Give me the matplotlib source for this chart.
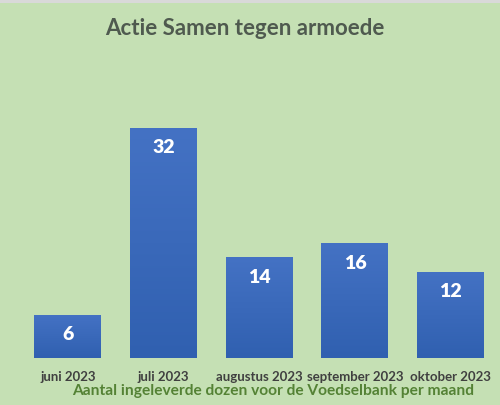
import matplotlib.pyplot as plt
import numpy as np
from matplotlib.patches import Rectangle
from matplotlib.colors import LinearSegmentedColormap

maanden = ["juni 2023", "juli 2023", "augustus 2023", "september 2023", "oktober 2023"]
dozen = [6, 32, 14, 16, 12]

titel = "Actie Samen tegen armoede"
onderschrift = "Aantal ingeleverde dozen voor de Voedselbank per maand"

achtergrond = "#c5e0b4"
plt.rcParams['font.family'] = ['Lato', 'DejaVu Sans']

fig = plt.figure(figsize=(5.0, 4.05), dpi=100, facecolor=achtergrond)
ax = fig.add_axes([0.040, 0.116, 0.957, 0.62])
ax.set_facecolor(achtergrond)

x = np.arange(len(maanden))
breedte = 0.70
ax.set_xlim(-0.5, len(maanden) - 0.5)
ax.set_ylim(0, 34.9)

# kleurverloop van licht (boven) naar donker (onder)
verloop = np.linspace(0, 1, 256).reshape(-1, 1)
cmap = LinearSegmentedColormap.from_list("blauw", ["#3060b0", "#4472c4"])

for xi, v in zip(x, dozen):
    balk = Rectangle((xi - breedte / 2, 0), breedte, v, facecolor="#3b66b8",
                     edgecolor="none", zorder=2)
    ax.add_patch(balk)
    img = ax.imshow(verloop, cmap=cmap, aspect="auto", origin="lower",
                    extent=(xi - breedte / 2, xi + breedte / 2, 0, v), zorder=3)
    img.set_clip_path(balk)
    ax.text(xi, v - 2.8, str(v), ha="center", va="center", color="white",
            fontsize=14, fontweight="heavy", zorder=4)

ax.set_xticks(x)
ax.set_xticklabels(maanden, fontsize=9.5, fontweight="bold", color="#404040")
ax.tick_params(axis="x", length=0, pad=9)
ax.set_yticks([])
for s in ax.spines.values():
    s.set_visible(False)

fig.text(0.49, 0.93, titel, ha="center", va="center", fontsize=16,
         fontweight="bold", color="#4f5a4f")
fig.text(0.546, 0.035, onderschrift, ha="center", va="center", fontsize=11.2,
         fontweight="bold", color="#548235")

# grijze rand bovenaan
fig.patches.append(Rectangle((0, 0.992), 1, 0.008, transform=fig.transFigure,
                             facecolor="#d9d9d9", edgecolor="none"))

fig.savefig("out.png", dpi=100, facecolor=achtergrond)
